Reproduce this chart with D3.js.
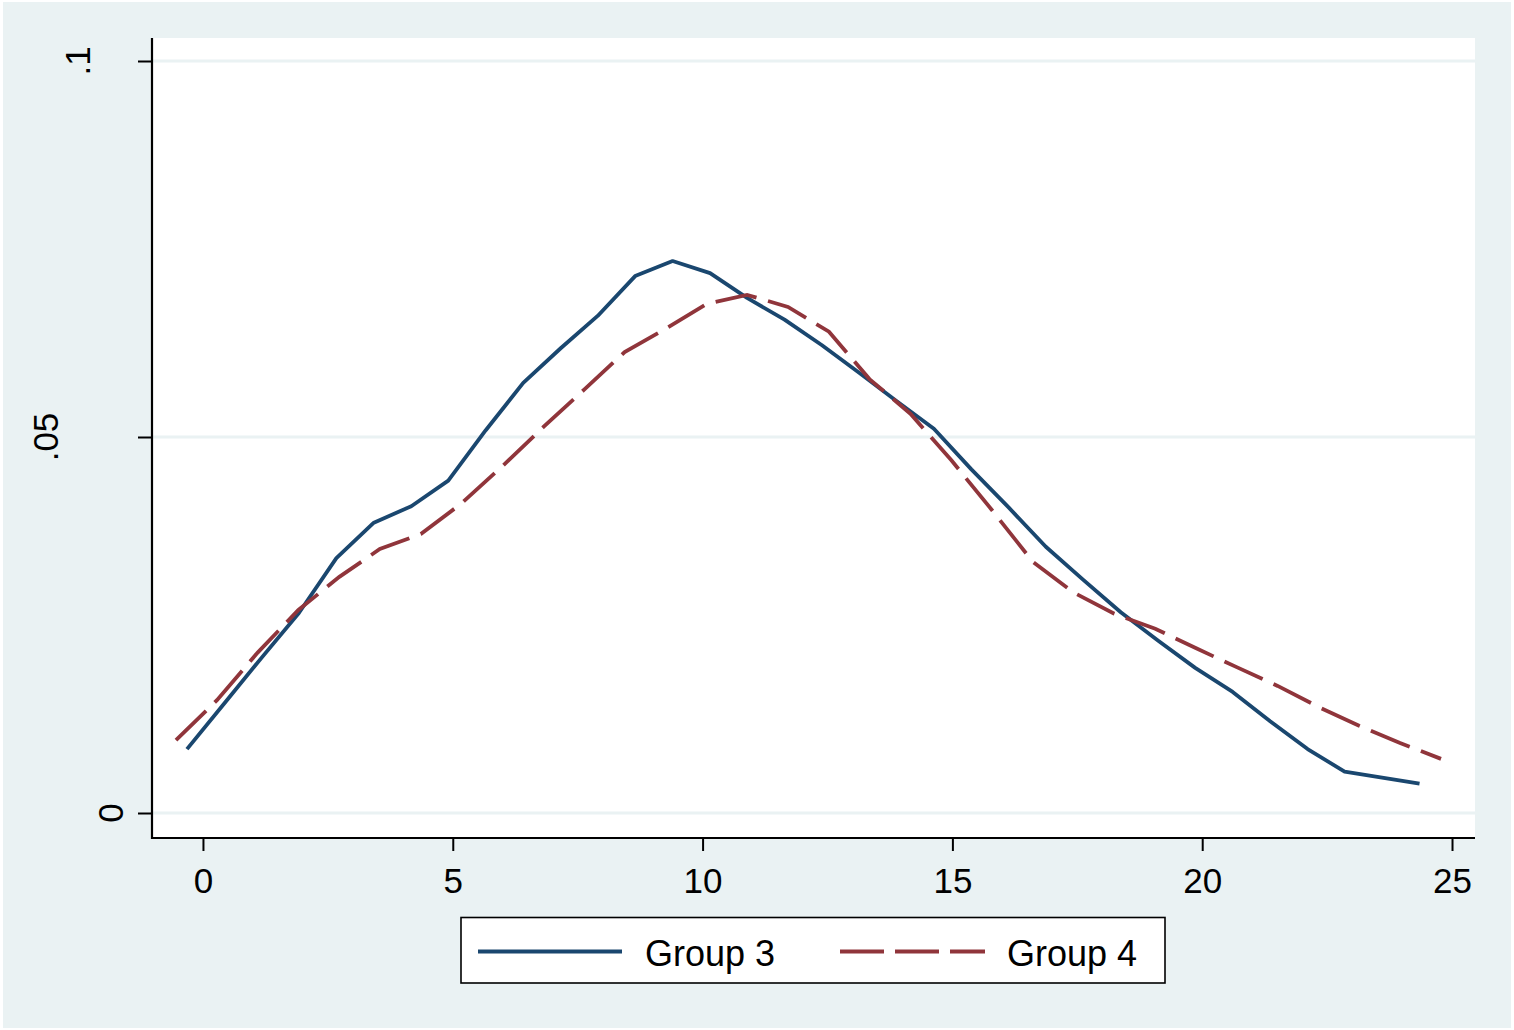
<!DOCTYPE html>
<html>
<head>
<meta charset="utf-8">
<script src="https://cdn.jsdelivr.net/npm/d3@7"></script>
<style>
  html, body { margin: 0; padding: 0; background: #ffffff; }
  svg { display: block; }
  text { font-family: "Liberation Sans", Arial, sans-serif; fill: #000; }
</style>
</head>
<body>
<svg id="chart" width="1514" height="1030"></svg>
<script>
// ---- data ----
const seriesNames = ["Group 3", "Group 4"];
const group3X = [-0.32, 0.43, 1.18, 1.92, 2.67, 3.42, 4.17, 4.91, 5.66, 6.41, 7.16, 7.90, 8.65, 9.40, 10.15, 10.89, 11.64, 12.39, 13.14, 13.88, 14.63, 15.38, 16.13, 16.87, 17.62, 18.37, 19.12, 19.86, 20.61, 21.36, 22.11, 22.85, 23.60, 24.35];
const group3Y = [0.0085, 0.0146, 0.0207, 0.0266, 0.0339, 0.0386, 0.0408, 0.0442, 0.0509, 0.0572, 0.0618, 0.0661, 0.0714, 0.0734, 0.0718, 0.0685, 0.0656, 0.0622, 0.0585, 0.0548, 0.0511, 0.0457, 0.0406, 0.0354, 0.0310, 0.0267, 0.0229, 0.0193, 0.0161, 0.0122, 0.0085, 0.0055, 0.0047, 0.0039];
const group4X = [-0.54, 0.28, 1.09, 1.91, 2.73, 3.54, 4.36, 5.18, 5.99, 6.81, 7.63, 8.44, 9.26, 10.08, 10.89, 11.71, 12.53, 13.34, 14.16, 14.98, 15.79, 16.61, 17.43, 18.24, 19.06, 19.88, 20.69, 21.51, 22.33, 23.14, 23.96, 24.78];
const group4Y = [0.0097, 0.0150, 0.0213, 0.0270, 0.0314, 0.0351, 0.0371, 0.0412, 0.0461, 0.0513, 0.0563, 0.0613, 0.0644, 0.0677, 0.0689, 0.0673, 0.0640, 0.0577, 0.0531, 0.0469, 0.0403, 0.0334, 0.0293, 0.0265, 0.0245, 0.0219, 0.0194, 0.0169, 0.0141, 0.0116, 0.0093, 0.0072];
const xTicks = [0, 5, 10, 15, 20, 25];
const yTicks = [0, 0.05, 0.1];
const yTickLabels = ["0", ".05", ".1"];

// ---- layout ----
const W = 1514, H = 1030;
const plot = { left: 152, right: 1475, top: 38, bottom: 838 };
const colors = { g3: "#1a476f", g4: "#90353b", bg: "#eaf2f3", grid: "#eaf2f3" };

const svg = d3.select("#chart");

svg.append("rect").attr("x", 0).attr("y", 0).attr("width", W).attr("height", H).attr("fill", "#ffffff");
svg.append("rect").attr("x", 3).attr("y", 2).attr("width", W - 6).attr("height", H - 4).attr("fill", colors.bg);
svg.append("rect")
  .attr("x", plot.left).attr("y", plot.top)
  .attr("width", plot.right - plot.left).attr("height", plot.bottom - plot.top)
  .attr("fill", "#ffffff");

const x = d3.scaleLinear().domain([-1.02, 25.46]).range([plot.left, plot.right]);
const y = d3.scaleLinear().domain([-0.003324, 0.103059]).range([plot.bottom, plot.top]);

// gridlines
svg.append("g").selectAll("line").data(yTicks).join("line")
  .attr("x1", plot.left).attr("x2", plot.right)
  .attr("y1", d => y(d)).attr("y2", d => y(d))
  .attr("stroke", colors.grid).attr("stroke-width", 3);

// lines
const line = d3.line().x(d => x(d[0])).y(d => y(d[1]));
const g3 = group3X.map((v, i) => [v, group3Y[i]]);
const g4 = group4X.map((v, i) => [v, group4Y[i]]);

svg.append("path").datum(g3).attr("d", line)
  .attr("fill", "none").attr("stroke", colors.g3).attr("stroke-width", 3.8)
  .attr("stroke-linejoin", "round");
svg.append("path").datum(g4).attr("d", line)
  .attr("fill", "none").attr("stroke", colors.g4).attr("stroke-width", 3.8)
  .attr("stroke-dasharray", "42,12");

// x axis
const xAxis = d3.axisBottom(x).tickValues(xTicks).tickSize(13).tickPadding(17).tickFormat(d3.format("d"));
const gx = svg.append("g").attr("transform", `translate(0,${plot.bottom})`).call(xAxis);
gx.select(".domain").remove();
gx.selectAll(".tick line").attr("stroke", "#000").attr("stroke-width", 2);
gx.selectAll(".tick text").attr("font-size", 35).attr("font-family", "Liberation Sans, Arial, sans-serif").attr("fill", "#000");

// y axis ticks
const yAxis = d3.axisLeft(y).tickValues(yTicks).tickSize(14).tickFormat((d, i) => yTickLabels[i]);
const gy = svg.append("g").attr("transform", `translate(${plot.left},0)`).call(yAxis);
gy.select(".domain").remove();
gy.selectAll(".tick line").attr("stroke", "#000").attr("stroke-width", 2);
gy.selectAll(".tick text").remove();

// rotated y labels
svg.append("g").selectAll("text").data(yTicks).join("text")
  .attr("transform", (d, i) => `translate(${155 - 32.5 * yTickLabels[i].length},${y(d)}) rotate(-90)`)
  .attr("text-anchor", "middle")
  .attr("font-size", 35)
  .text((d, i) => yTickLabels[i]);

// axis lines
svg.append("line").attr("x1", plot.left).attr("x2", plot.left).attr("y1", plot.top).attr("y2", plot.bottom + 1)
  .attr("stroke", "#000").attr("stroke-width", 2.2);
svg.append("line").attr("x1", plot.left - 1).attr("x2", plot.right).attr("y1", plot.bottom).attr("y2", plot.bottom)
  .attr("stroke", "#000").attr("stroke-width", 2.2);

// legend
const lg = svg.append("g");
lg.append("rect").attr("x", 461).attr("y", 917.5).attr("width", 704).attr("height", 65.5)
  .attr("fill", "#ffffff").attr("stroke", "#000").attr("stroke-width", 1.6);
const legendItems = [
  { name: seriesNames[0], color: colors.g3, dash: null, x0: 478, x1: 622, tx: 645 },
  { name: seriesNames[1], color: colors.g4, dash: "44,11", x0: 840, x1: 985, tx: 1007 }
];
legendItems.forEach(it => {
  const l = lg.append("line").attr("x1", it.x0).attr("x2", it.x1).attr("y1", 951.5).attr("y2", 951.5)
    .attr("stroke", it.color).attr("stroke-width", 3.8);
  if (it.dash) l.attr("stroke-dasharray", it.dash);
  lg.append("text").attr("x", it.tx).attr("y", 966).attr("font-size", 36).text(it.name);
});
</script>
</body>
</html>
